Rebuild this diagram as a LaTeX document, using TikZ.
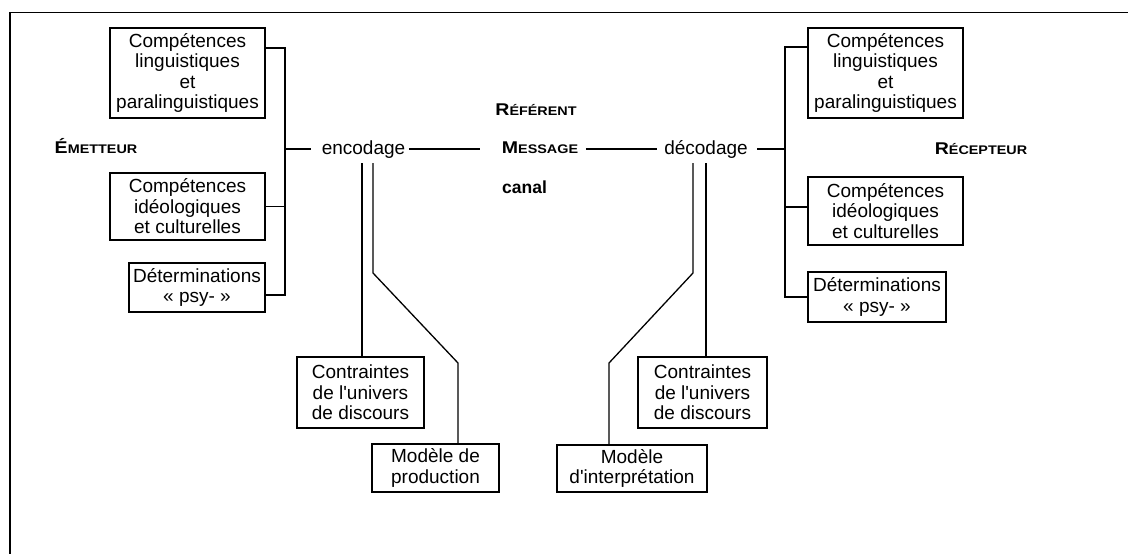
\documentclass[tikz,border=0pt]{standalone}
\usepackage{fontspec}
\setmainfont{Liberation Sans}
\usepackage{graphicx}
\usetikzlibrary{positioning, calc}

\newcommand{\capword}[2]{\textbf{\scalebox{1.15}[1]{\fontsize{17}{17}\selectfont #1\fontsize{12.5}{12.5}\selectfont #2}}}

\begin{document}
\begin{tikzpicture}[x=1pt, y=-1pt, line width=1.3pt,
  cbox/.style={draw, line width=1.6pt, align=center, inner sep=0pt, font=\fontsize{19}{20.5}\selectfont},
  word/.style={inner sep=0pt, anchor=base, font=\fontsize{19}{20}\selectfont}]

\useasboundingbox (0,0) rectangle (1128,554);
\draw[line width=1.8pt] (1128,12.5) -- (10,12.5) -- (10,554);

% emetteur
\node[cbox, minimum width=155pt, minimum height=90pt] (lingL) at (187.5,73) {Compétences\\linguistiques\\et\\paralinguistiques};
\node[cbox, minimum width=155pt, minimum height=67pt] (ideoL) at (187.5,206.5) {Compétences\\idéologiques\\et culturelles};
\node[cbox, minimum width=136pt, minimum height=49pt] (psyL) at (197,287.5) {Déterminations\\«~psy-~»};
\node[word] (emet) at (96,153) {\capword{É}{METTEUR}};

% recepteur
\node[cbox, minimum width=155pt, minimum height=90pt] (lingR) at (885.5,73) {Compétences\\linguistiques\\et\\paralinguistiques};
\node[cbox, minimum width=155pt, minimum height=68pt] (ideoR) at (885.5,211) {Compétences\\idéologiques\\et culturelles};
\node[cbox, minimum width=138pt, minimum height=50pt] (psyR) at (877,297) {Déterminations\\«~psy-~»};
\node[word] (recep) at (981,154) {\capword{R}{ÉCEPTEUR}};

% centre
\node[word] (enc) at (363.5,154) {encodage};
\node[word] (dec) at (706,154) {décodage};
\node[word] (ref) at (536,115) {\capword{R}{ÉFÉRENT}};
\node[word] (msg) at (540,153) {\capword{M}{ESSAGE}};
\node[word, font=\fontsize{17.5}{18}\selectfont\bfseries] (can) at (524.5,193) {canal};

% contraintes et modeles
\node[cbox, minimum width=127pt, minimum height=71pt] (ctrL) at (360.5,392.5) {Contraintes\\de l\textquotesingle univers\\de discours};
\node[cbox, minimum width=127pt, minimum height=48pt] (prodL) at (435.5,468) {Modèle de\\production};
\node[cbox, minimum width=129pt, minimum height=71pt] (ctrR) at (702.5,392.5) {Contraintes\\de l\textquotesingle univers\\de discours};
\node[cbox, minimum width=150pt, minimum height=47pt] (interpR) at (632,468.5) {Modèle\\d\textquotesingle interprétation};

% accolades
\coordinate (brL) at (285,149);
\coordinate (brR) at (785,149);
\draw ([yshift=25pt]lingL.east) -| (brL) |- ([yshift=-7.5pt]psyL.east);
\draw (ideoL.east) -- (ideoL.east -| brL);
\draw ([yshift=26pt]lingR.west) -| (brR) |- (psyR.west);
\coordinate (iR) at ($(ideoR.west)+(0,-4)$);
\draw (iR) -- (iR -| brR);

% ligne du message
\draw (brL) -- ($(brL -| enc.west)+(-10,0)$);
\draw ($(brL -| enc.east)+(3,0)$) -- ($(brL -| msg.west)+(-21,0)$);
\draw ($(brR -| msg.east)+(7,0)$) -- ($(brR -| dec.west)+(-7,0)$);
\draw ($(brR -| dec.east)+(9,0)$) -- (brR);

% vers les contraintes
\coordinate (eL) at ($(enc.base)+(-1.5,9)$);
\coordinate (eR) at ($(enc.base)+(9.5,9)$);
\coordinate (kL1) at ($(eR)+(0,110)$);
\coordinate (kL2) at (458,363);
\draw (eL) -- (eL |- ctrL.north);
\draw (eR) -- (kL1) -- (kL2) -- (kL2 |- prodL.north);

\coordinate (dL) at ($(dec.base)+(-13,9)$);
\coordinate (dR) at ($(dec.base)+(0,9)$);
\coordinate (kR1) at ($(dL)+(0,110)$);
\coordinate (kR2) at (609,363);
\draw (dR) -- (dR |- ctrR.north);
\draw (dL) -- (kR1) -- (kR2) -- (kR2 |- interpR.north);
\end{tikzpicture}
\end{document}
